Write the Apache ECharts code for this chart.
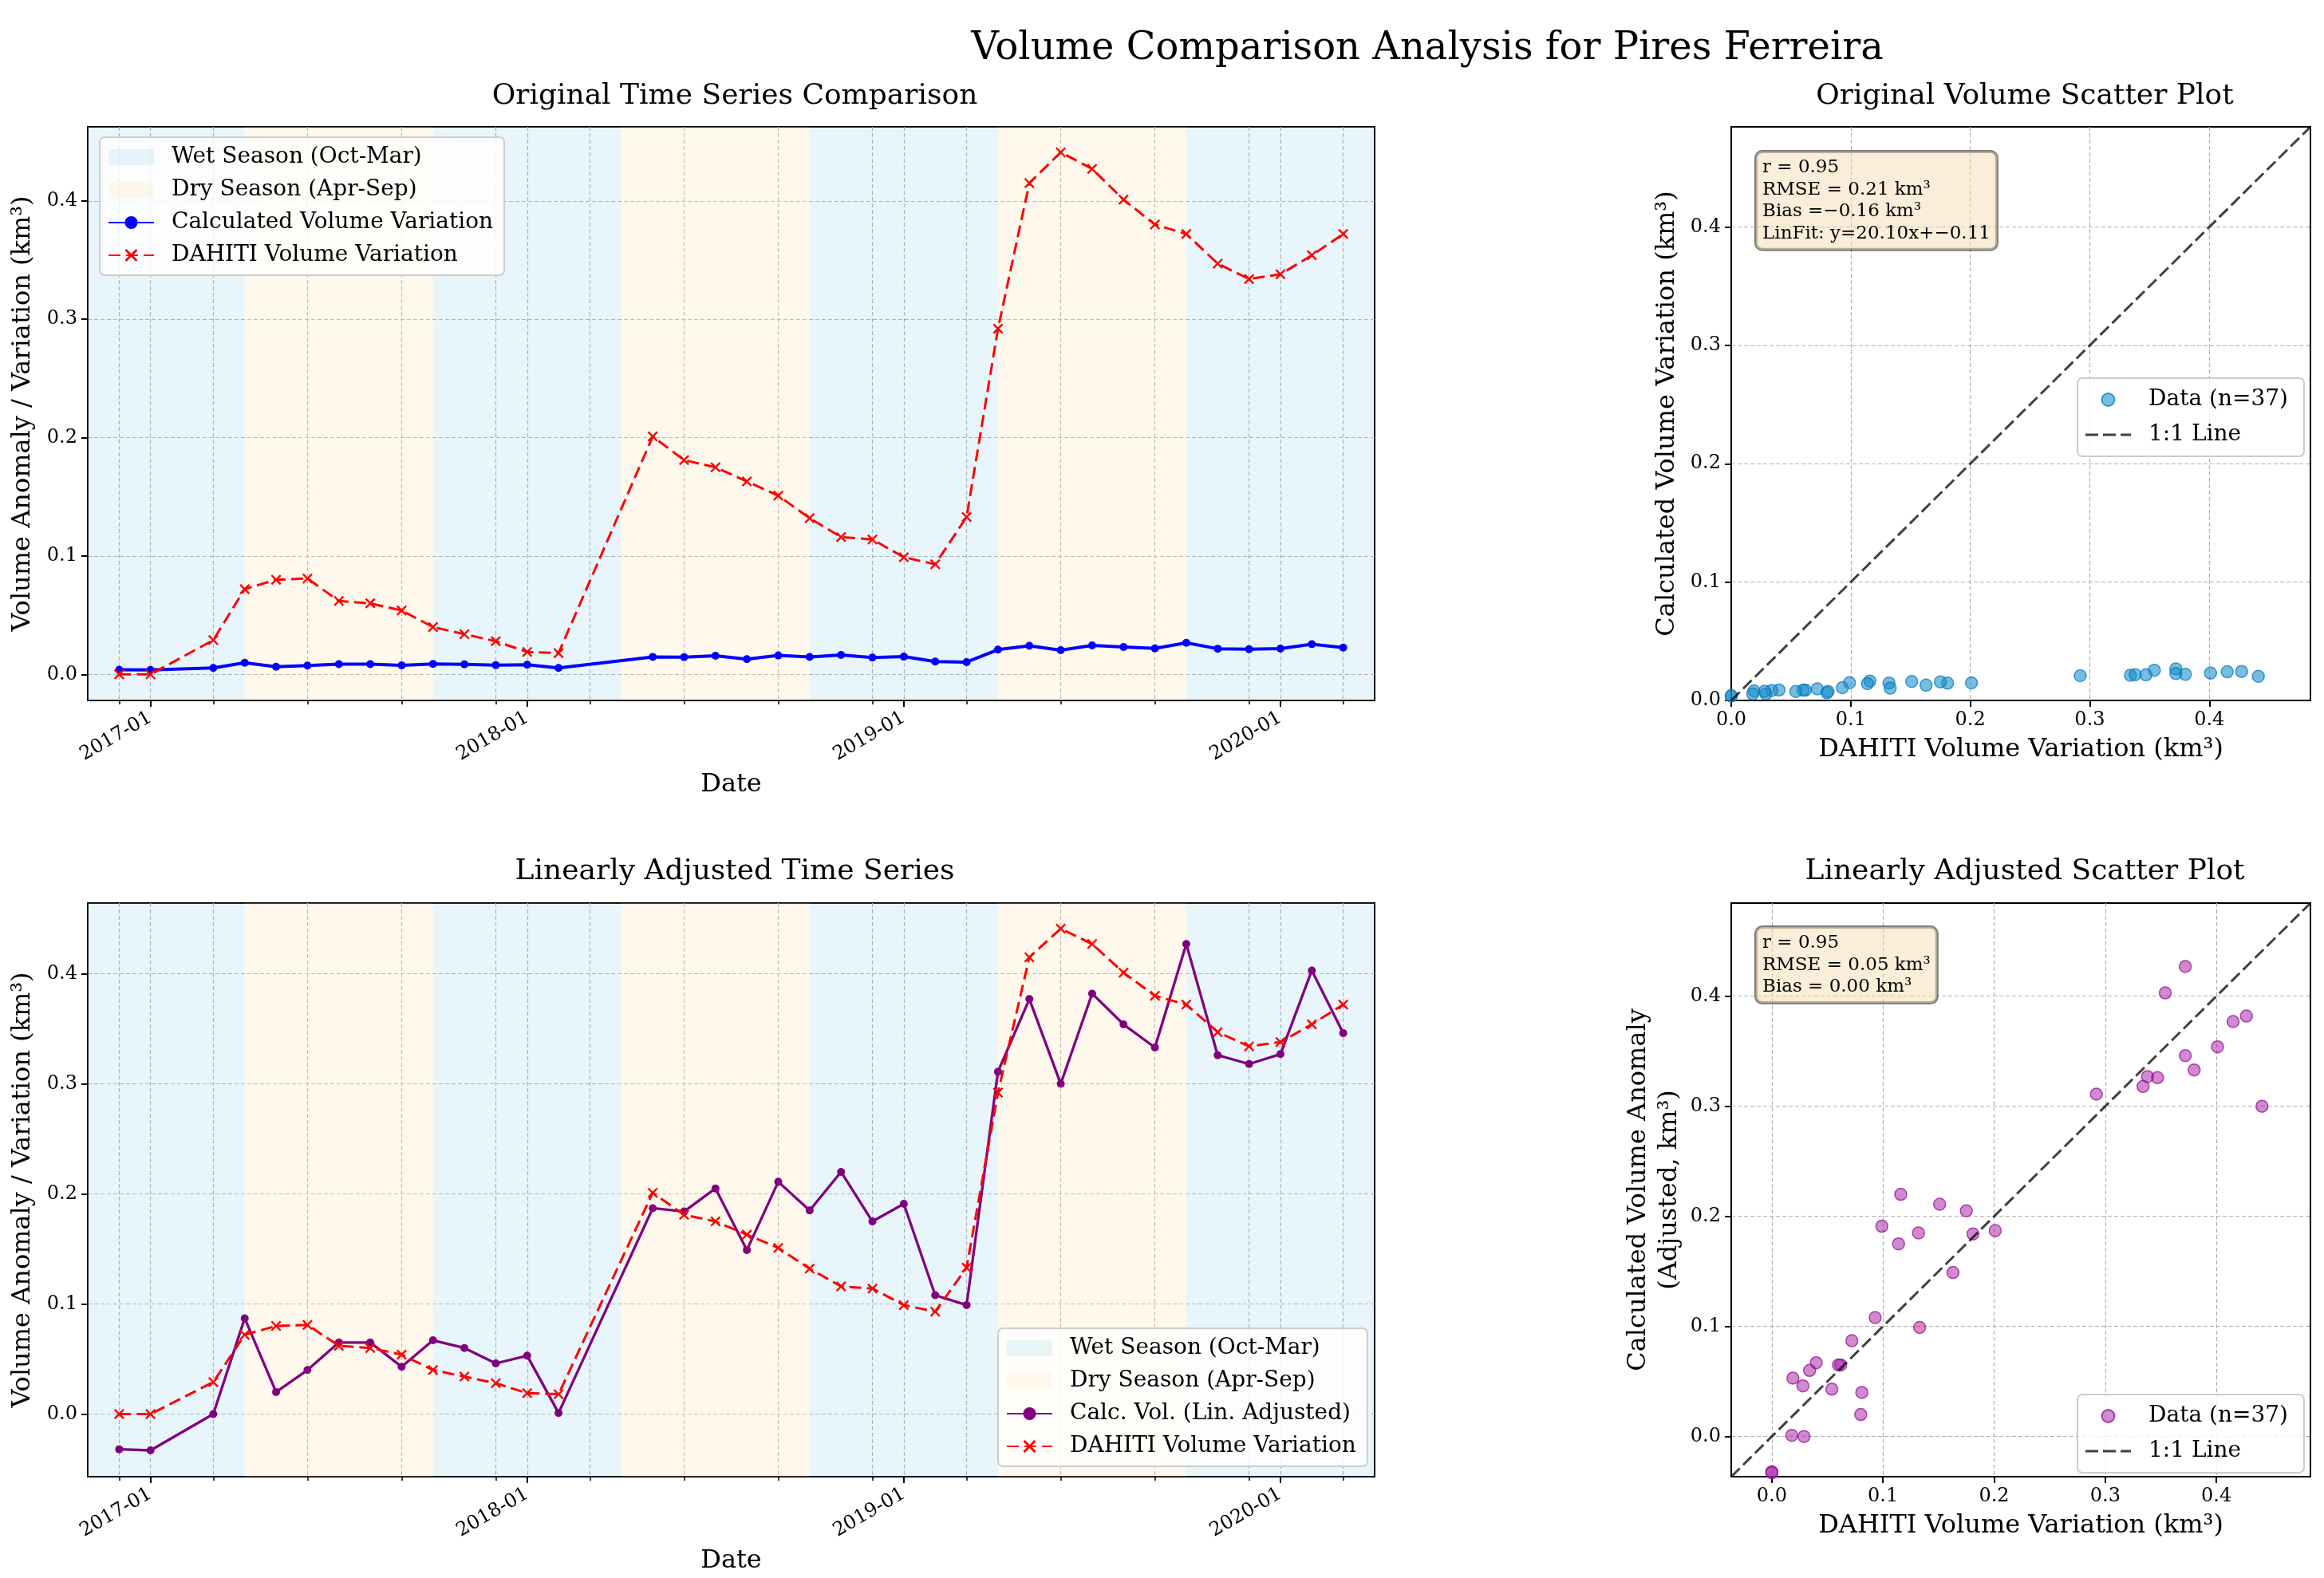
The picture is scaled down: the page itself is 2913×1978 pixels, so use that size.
<!DOCTYPE html>
<html>
<head>
<meta charset="utf-8">
<script src="https://cdn.jsdelivr.net/npm/echarts@6/dist/echarts.min.js"></script>
<style>html,body{margin:0;padding:0;background:#fff}#c{width:2913px;height:1978px}</style>
</head>
<body>
<div id="c"></div>
<script>
// ---------- data ----------
const dates = ['2016-12','2017-01','2017-03','2017-04','2017-05','2017-06','2017-07','2017-08','2017-09','2017-10','2017-11','2017-12','2018-01','2018-02','2018-05','2018-06','2018-07','2018-08','2018-09','2018-10','2018-11','2018-12','2019-01','2019-02','2019-03','2019-04','2019-05','2019-06','2019-07','2019-08','2019-09','2019-10','2019-11','2019-12','2020-01','2020-02','2020-03'];
const dahiti = [0.000,0.000,0.029,0.072,0.080,0.081,0.062,0.060,0.054,0.040,0.034,0.028,0.019,0.018,0.201,0.181,0.175,0.163,0.151,0.132,0.116,0.114,0.099,0.093,0.133,0.292,0.415,0.441,0.427,0.401,0.380,0.372,0.347,0.334,0.338,0.354,0.372];
const calc = [0.0039,0.0038,0.0055,0.0098,0.0065,0.0075,0.0087,0.0087,0.0076,0.0088,0.0085,0.0078,0.0081,0.0055,0.0148,0.0146,0.0157,0.0129,0.0160,0.0147,0.0164,0.0142,0.0150,0.0108,0.0104,0.0209,0.0242,0.0204,0.0245,0.0231,0.0220,0.0267,0.0217,0.0213,0.0218,0.0255,0.0227];
const adjusted = [-0.032,-0.033,0.000,0.087,0.020,0.040,0.065,0.065,0.043,0.067,0.060,0.046,0.053,0.001,0.187,0.184,0.205,0.149,0.211,0.185,0.220,0.175,0.191,0.108,0.099,0.311,0.377,0.300,0.382,0.354,0.333,0.427,0.326,0.318,0.327,0.403,0.346];
const wetSeasons = [['2016-11','2017-04'],['2017-10','2018-04'],['2018-10','2019-04'],['2019-10','2020-04']];
const drySeasons = [['2017-04','2017-10'],['2018-04','2018-10'],['2019-04','2019-10']];
const valueTicks = [0, 0.1, 0.2, 0.3, 0.4];
const gridMonths = [1, 3, 6, 9, 12];
const minorMonths = [3, 6, 9, 12];
const tsLimitsTop = [-0.022, 0.4625];
const tsLimitsBottom = [-0.0569, 0.4642];
const scLimitsTop = [0, 0.4846];
const scLimitsBottom = [-0.0365, 0.4846];
const statsTop = ['r = 0.95', 'RMSE = 0.21 km³', 'Bias =\u22120.16 km³', 'LinFit: y=20.10x+\u22120.11'];
const statsBottom = ['r = 0.95', 'RMSE = 0.05 km³', 'Bias = 0.00 km³'];

// month categories for the time axis
const months = [];
for (let y = 2016, m = 11; y < 2020 || (y === 2020 && m <= 4); ) {
  months.push(y + '-' + String(m).padStart(2, '0'));
  m++; if (m > 12) { m = 1; y++; }
}

// ---------- style ----------
const F = "'DejaVu Serif', serif";
const WET = 'rgba(135,206,235,0.19)';
const DRY = 'rgba(255,228,181,0.26)';
const GRIDLINE = {color: '#b0b0b0', type: [5, 3], width: 1.2};
const X_SYMBOL = 'path://M0,1.3L1.3,0L5,3.7L8.7,0L10,1.3L6.3,5L10,8.7L8.7,10L5,6.3L1.3,10L0,8.7L3.7,5Z';
const DASH_ICON = 'path://M0,0h16v3h-16zM22,0h16v3h-16zM44,0h13v3h-13z';
const monthOf = v => +String(v).slice(5);

function timeXAxes(gi) {
  return [{
    type: 'category', gridIndex: gi, position: 'bottom', data: months, boundaryGap: false,
    axisLine: {show: true, onZero: false, lineStyle: {color: '#000', width: 2}},
    axisTick: {show: true, interval: (i, v) => monthOf(v) === 1, length: 8, lineStyle: {color: '#000', width: 2}},
    axisLabel: {show: true, interval: (i, v) => monthOf(v) === 1, rotate: 30, margin: 20, fontSize: 24, fontFamily: F, color: '#000'},
    splitLine: {show: true, interval: (i, v) => gridMonths.includes(monthOf(v)), lineStyle: GRIDLINE},
    name: 'Date', nameLocation: 'middle', nameGap: 90,
    nameTextStyle: {fontSize: 32, fontFamily: F, color: '#000'}
  }, {
    type: 'category', gridIndex: gi, position: 'bottom', data: months, boundaryGap: false,
    axisLine: {show: false, onZero: false},
    axisTick: {show: true, interval: (i, v) => minorMonths.includes(monthOf(v)), length: 5, lineStyle: {color: '#000', width: 1.5}},
    axisLabel: {show: false}, splitLine: {show: false}
  }];
}

function valueAxis(gi, lim, name, nameGap) {
  return {
    type: 'value', gridIndex: gi, min: lim[0], max: lim[1],
    minInterval: 0.1, maxInterval: 0.1,
    axisLine: {show: true, onZero: false, lineStyle: {color: '#000', width: 2}},
    axisTick: {show: true, customValues: valueTicks, length: 8, lineStyle: {color: '#000', width: 2}},
    axisLabel: {show: true, customValues: valueTicks, formatter: v => v.toFixed(1), margin: 13, fontSize: 24, fontFamily: F, color: '#000'},
    splitLine: {show: true, lineStyle: GRIDLINE},
    name: name, nameLocation: 'middle', nameGap: nameGap,
    nameTextStyle: {fontSize: 32, fontFamily: F, color: '#000', lineHeight: 39}
  };
}

function seasonSeries(name, spans, color, xi, yi) {
  return {
    name: name, type: 'line', xAxisIndex: xi, yAxisIndex: yi, data: [], silent: true, z: 1,
    itemStyle: {color: color},
    markArea: {silent: true, itemStyle: {color: color}, data: spans.map(s => [{xAxis: s[0]}, {xAxis: s[1]}])}
  };
}

function legendBox(left, top, data, extra) {
  return Object.assign({
    left: left, top: top, orient: 'vertical', data: data,
    itemWidth: 57, itemHeight: 20, itemGap: 11, padding: [10, 14, 10, 10],
    backgroundColor: 'rgba(255,255,255,0.8)', borderColor: '#cccccc', borderWidth: 2, borderRadius: 6,
    selectedMode: false,
    textStyle: {fontSize: 28, fontFamily: F, color: '#000', lineHeight: 30, padding: [0, 0, 0, 17]}
  }, extra || {});
}

const titleStyle = s => ({fontSize: s, fontWeight: 'normal', fontFamily: F, color: '#000'});
const gridBox = (l, t) => ({left: l, top: t, width: l > 1000 ? 726 : 1613, height: 719, show: true, borderColor: '#000', borderWidth: 2, backgroundColor: 'transparent'});

const seasonLegend = [
  {name: 'Wet Season (Oct-Mar)', icon: 'rect', itemStyle: {color: WET}},
  {name: 'Dry Season (Apr-Sep)', icon: 'rect', itemStyle: {color: DRY}}
];
const lineLegend = {name: '1:1 Line', icon: DASH_ICON, itemStyle: {color: 'rgba(0,0,0,0.75)'}};

const option = {
  animation: false,
  backgroundColor: '#fff',
  title: [
    {text: 'Volume Comparison Analysis for Pires Ferreira', left: 1784, top: 33, textAlign: 'center', textStyle: titleStyle(48)},
    {text: 'Original Time Series Comparison', left: 916, top: 98, textAlign: 'center', textStyle: titleStyle(36)},
    {text: 'Original Volume Scatter Plot', left: 2533, top: 98, textAlign: 'center', textStyle: titleStyle(36)},
    {text: 'Linearly Adjusted Time Series', left: 916, top: 1070, textAlign: 'center', textStyle: titleStyle(36)},
    {text: 'Linearly Adjusted Scatter Plot', left: 2533, top: 1070, textAlign: 'center', textStyle: titleStyle(36)}
  ],
  grid: [gridBox(110, 159), gridBox(2170, 159), gridBox(110, 1132), gridBox(2170, 1132)],
  xAxis: [
    ...timeXAxes(0),
    valueAxis(1, scLimitsTop, 'DAHITI Volume Variation (km³)', 42),
    ...timeXAxes(2),
    valueAxis(3, scLimitsBottom, 'DAHITI Volume Variation (km³)', 42)
  ],
  yAxis: [
    valueAxis(0, tsLimitsTop, 'Volume Anomaly / Variation (km³)', 58),
    valueAxis(1, scLimitsTop, 'Calculated Volume Variation (km³)', 61),
    valueAxis(2, tsLimitsBottom, 'Volume Anomaly / Variation (km³)', 58),
    valueAxis(3, scLimitsBottom, 'Calculated Volume Anomaly\n(Adjusted, km³)', 58)
  ],
  legend: [
    legendBox(125, 172, [...seasonLegend, 'Calculated Volume Variation', 'DAHITI Volume Variation']),
    legendBox(1251, 1665, [...seasonLegend, 'Calc. Vol. (Lin. Adjusted)', 'DAHITI Volume Variation']),
    legendBox(2604, 474, [{name: 'Data (n=37)', icon: 'circle'}, lineLegend], {itemHeight: 16, itemGap: 14, padding: [12, 20, 12, 10]}),
    legendBox(2604, 1748, [{name: 'Data (n=37)', icon: 'circle', itemStyle: {color: 'rgba(165,30,165,0.65)', borderColor: 'rgba(140,0,140,0.85)'}}, lineLegend], {itemHeight: 16, itemGap: 14, padding: [12, 20, 12, 10]})
  ],
  graphic: [
    {type: 'text', left: 2199, top: 188, z: 100, style: {text: statsTop.join('\n'), font: "23px 'DejaVu Serif'", fill: '#000', lineHeight: 27.7, backgroundColor: 'rgba(245,222,179,0.5)', borderColor: 'rgba(0,0,0,0.5)', borderWidth: 2, borderRadius: 8, padding: [6, 8, 6, 8]}},
    {type: 'text', left: 2199, top: 1160, z: 100, style: {text: statsBottom.join('\n'), font: "23px 'DejaVu Serif'", fill: '#000', lineHeight: 27.7, backgroundColor: 'rgba(245,222,179,0.5)', borderColor: 'rgba(0,0,0,0.5)', borderWidth: 2, borderRadius: 8, padding: [6, 8, 6, 8]}}
  ],
  series: [
    // top-left
    seasonSeries('Wet Season (Oct-Mar)', wetSeasons, WET, 0, 0),
    seasonSeries('Dry Season (Apr-Sep)', drySeasons, DRY, 0, 0),
    {name: 'Calculated Volume Variation', type: 'line', xAxisIndex: 0, yAxisIndex: 0, z: 3,
     data: dates.map((d, i) => [d, calc[i]]), symbol: 'circle', symbolSize: 10, showAllSymbol: true,
     lineStyle: {color: '#0000ff', width: 4}, itemStyle: {color: '#0000ff'}},
    {name: 'DAHITI Volume Variation', type: 'line', xAxisIndex: 0, yAxisIndex: 0, z: 4,
     data: dates.map((d, i) => [d, dahiti[i]]), symbol: X_SYMBOL, symbolSize: 13, showAllSymbol: true,
     lineStyle: {color: '#ff0000', width: 3, type: [15, 7]}, itemStyle: {color: '#ff0000'}},
    // top-right
    {name: 'Data (n=37)', type: 'scatter', xAxisIndex: 2, yAxisIndex: 1, z: 3,
     data: dahiti.map((d, i) => [d, calc[i]]), symbol: 'circle', symbolSize: 15,
     itemStyle: {color: 'rgba(20,140,200,0.72)', borderColor: 'rgba(0,120,190,0.9)', borderWidth: 1.5}},
    {name: '1:1 Line', type: 'line', xAxisIndex: 2, yAxisIndex: 1, z: 4,
     data: [[scLimitsTop[0], scLimitsTop[0]], [scLimitsTop[1], scLimitsTop[1]]], symbol: 'none',
     lineStyle: {color: 'rgba(0,0,0,0.75)', width: 3, type: [15, 6]}, itemStyle: {color: 'rgba(0,0,0,0.75)'}},
    // bottom-left
    seasonSeries('Wet Season (Oct-Mar)', wetSeasons, WET, 3, 2),
    seasonSeries('Dry Season (Apr-Sep)', drySeasons, DRY, 3, 2),
    {name: 'Calc. Vol. (Lin. Adjusted)', type: 'line', xAxisIndex: 3, yAxisIndex: 2, z: 3,
     data: dates.map((d, i) => [d, adjusted[i]]), symbol: 'circle', symbolSize: 10, showAllSymbol: true,
     lineStyle: {color: '#800080', width: 3.3}, itemStyle: {color: '#800080'}},
    {name: 'DAHITI Volume Variation', type: 'line', xAxisIndex: 3, yAxisIndex: 2, z: 4,
     data: dates.map((d, i) => [d, dahiti[i]]), symbol: X_SYMBOL, symbolSize: 13, showAllSymbol: true,
     lineStyle: {color: '#ff0000', width: 3, type: [15, 7]}, itemStyle: {color: '#ff0000'}},
    // bottom-right
    {name: 'Data (n=37)', type: 'scatter', xAxisIndex: 5, yAxisIndex: 3, z: 3,
     data: dahiti.map((d, i) => [d, adjusted[i]]), symbol: 'circle', symbolSize: 15,
     itemStyle: {color: 'rgba(165,30,165,0.65)', borderColor: 'rgba(140,0,140,0.85)', borderWidth: 1.5}},
    {name: '1:1 Line', type: 'line', xAxisIndex: 5, yAxisIndex: 3, z: 4,
     data: [[scLimitsBottom[0], scLimitsBottom[0]], [scLimitsBottom[1], scLimitsBottom[1]]], symbol: 'none',
     lineStyle: {color: 'rgba(0,0,0,0.75)', width: 3, type: [15, 6]}, itemStyle: {color: 'rgba(0,0,0,0.75)'}}
  ]
};

const chart = echarts.init(document.getElementById('c'), null, {renderer: 'canvas', width: 2913, height: 1978});
chart.setOption(option);
</script>
</body>
</html>
